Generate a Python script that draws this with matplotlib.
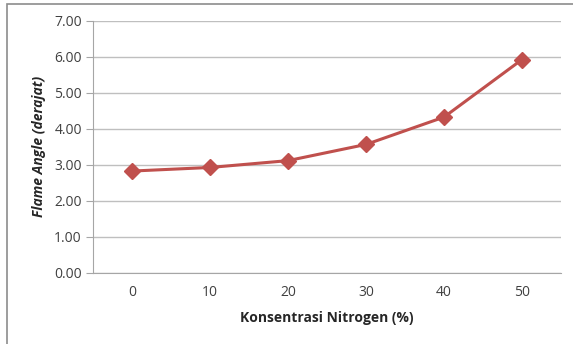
import matplotlib.pyplot as plt
from matplotlib.patches import Rectangle

plt.rcParams['font.family'] = ['Open Sans', 'DejaVu Sans']

# Konsentrasi nitrogen vs flame angle
kategori = ['0', '10', '20', '30', '40', '50']
flame_angle = [2.82, 2.92, 3.11, 3.56, 4.32, 5.92]
y_ticks = [0, 1, 2, 3, 4, 5, 6, 7]

fig = plt.figure(figsize=(5.73, 3.44), dpi=100)
ax = fig.add_axes([93 / 573, 1 - 272.5 / 344, (561 - 93) / 573, (272.5 - 20.7) / 344])

# chart frame (only left and top edges visible)
fig.patches.append(Rectangle((7 / 573, -0.1), 1.2, (1 - 4 / 344) + 0.1,
                             transform=fig.transFigure, fill=False,
                             edgecolor='#8c8c8c', linewidth=1.2))

x = list(range(len(kategori)))
ax.plot(x, flame_angle, color='#C0504D', linewidth=2.2, marker='D',
        markersize=8.5, markerfacecolor='#C0504D', markeredgecolor='#C0504D',
        zorder=3)

ax.set_xlim(-0.5, len(kategori) - 0.5)
ax.set_ylim(0, 7)
ax.set_yticks(y_ticks)
ax.set_yticklabels(['%.2f' % v for v in y_ticks])
ax.set_xticks(x)
ax.set_xticklabels(kategori)

ax.grid(axis='y', color='#bfbfbf', linewidth=1.0)
ax.set_axisbelow(True)
for side in ['top', 'right']:
    ax.spines[side].set_visible(False)
ax.spines['left'].set_color('#a6a6a6')
ax.spines['bottom'].set_color('#a6a6a6')
ax.tick_params(axis='y', length=5, color='#a6a6a6', labelsize=10,
               labelcolor='#404040', pad=3)
ax.tick_params(axis='x', length=0, labelsize=10, labelcolor='#404040', pad=9)

ax.set_xlabel('Konsentrasi Nitrogen (%)', fontsize=10, fontweight='bold',
              color='#262626', labelpad=8)
ax.set_ylabel('Flame Angle (derajat)', fontsize=10, fontweight='bold',
              fontstyle='italic', color='#262626', labelpad=6)

fig.savefig('out.png', dpi=100)
